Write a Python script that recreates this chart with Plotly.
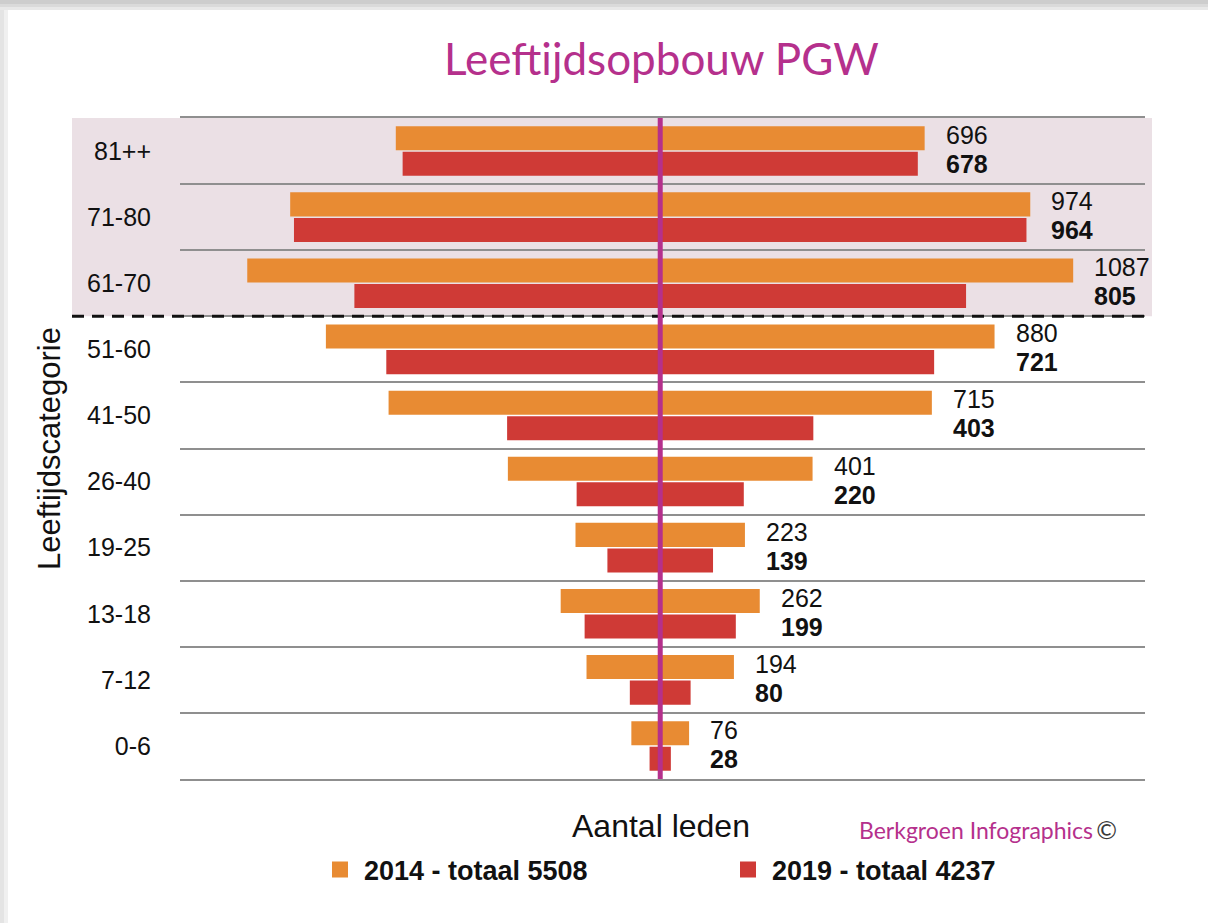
import plotly.graph_objects as go

# ---------------- data ----------------
categories = ["81++", "71-80", "61-70", "51-60", "41-50", "26-40", "19-25", "13-18", "7-12", "0-6"]
leden_2014 = [696, 974, 1087, 880, 715, 401, 223, 262, 194, 76]
leden_2019 = [678, 964, 805, 721, 403, 220, 139, 199, 80, 28]
series_names = ["2014 - totaal 5508", "2019 - totaal 4237"]

# ---------------- styling ----------------
ORANGE = "#e88b33"
RED = "#cf3a36"
MAGENTA = "#b5308c"
PINK = "#ebe0e5"
GRID = "#8f8f8f"

W, H = 1208, 923
L, R, T, B = 180, 63, 118, 144
PW, PH = W - L - R, H - T - B


def pxx(px):
    return (px - L) / PW


def pxy(py):
    return (H - B - py) / PH


cat_order = categories[::-1]  # bottom -> top

fig = go.Figure()

# red first so that orange sits on top within each group (horizontal grouping)
fig.add_trace(go.Bar(
    y=categories, x=leden_2019, base=[-v / 2 for v in leden_2019],
    orientation="h", marker=dict(color=RED, line_width=0),
    showlegend=False, hoverinfo="skip"))
fig.add_trace(go.Bar(
    y=categories, x=leden_2014, base=[-v / 2 for v in leden_2014],
    orientation="h", marker=dict(color=ORANGE, line_width=0),
    showlegend=False, hoverinfo="skip"))

# legend entries
for name, col in zip(series_names, [ORANGE, RED]):
    fig.add_trace(go.Scatter(
        x=[None], y=[None], mode="markers", name=f"<b>{name}</b>",
        marker=dict(symbol="square", size=20, color=col)))

# value labels
for cat, a, b in zip(categories, leden_2014, leden_2019):
    fig.add_annotation(x=a / 2, y=cat, text=str(a), showarrow=False,
                       xanchor="left", yanchor="middle", xshift=19, yshift=16,
                       font=dict(family="Liberation Sans, Arial", size=25, color="#111"))
    fig.add_annotation(x=a / 2, y=cat, text=f"<b>{b}</b>", showarrow=False,
                       xanchor="left", yanchor="middle", xshift=19, yshift=-13,
                       font=dict(family="Liberation Sans, Arial", size=25, color="#111"))

shapes = []
# frame shadow
for (y0, y1, c) in [(0, 4, "#cdcdcd"), (4, 7, "#dadada"), (7, 10, "#e8e8e8")]:
    shapes.append(dict(type="rect", xref="paper", yref="paper", x0=pxx(0), x1=pxx(W),
                       y0=pxy(y1), y1=pxy(y0), fillcolor=c, line_width=0, layer="below"))
for (x0, x1, c) in [(0, 4, "#e4e4e4"), (4, 8, "#f0f0f0")]:
    shapes.append(dict(type="rect", xref="paper", yref="paper", x0=pxx(x0), x1=pxx(x1),
                       y0=pxy(H), y1=pxy(10), fillcolor=c, line_width=0, layer="below"))
# pink band for 61+
shapes.append(dict(type="rect", xref="paper", yref="y", x0=pxx(72), x1=pxx(1152),
                   y0=6.5, y1=9.5, fillcolor=PINK, line_width=0, layer="below"))
# dashed separator
shapes.append(dict(type="line", xref="paper", yref="y", x0=pxx(72), x1=pxx(1152),
                   y0=6.5, y1=6.5, line=dict(color="#111", width=3, dash="12px,8px"),
                   layer="above"))
# center line
shapes.append(dict(type="line", xref="x", yref="paper", x0=0, x1=0, y0=0, y1=1,
                   line=dict(color=MAGENTA, width=5), layer="above"))
fig.update_layout(shapes=shapes)

# texts
fig.add_annotation(xref="paper", yref="paper", x=pxx(661), y=pxy(58),
                   text="Leeftijdsopbouw PGW", showarrow=False,
                   xanchor="center", yanchor="middle",
                   font=dict(family="Lato", size=44, color=MAGENTA))
fig.add_annotation(xref="paper", yref="paper", x=pxx(661), y=pxy(826),
                   text="Aantal leden", showarrow=False,
                   xanchor="center", yanchor="middle",
                   font=dict(family="Liberation Sans, Arial", size=32, color="#111"))
fig.add_annotation(xref="paper", yref="paper", x=pxx(49), y=pxy(449),
                   text="Leeftijdscategorie", showarrow=False, textangle=-90,
                   xanchor="center", yanchor="middle",
                   font=dict(family="Liberation Sans, Arial", size=31, color="#111"))
fig.add_annotation(xref="paper", yref="paper", x=pxx(857), y=pxy(829),
                   text="Berkgroen Infographics<span style='color:#3a3a3a;font-size:25px'>\u2009©</span>",
                   showarrow=False, xanchor="left", yanchor="middle",
                   font=dict(family="Lato", size=23, color=MAGENTA))

fig.update_layout(
    width=W, height=H,
    margin=dict(l=L, r=R, t=T, b=B),
    paper_bgcolor="white", plot_bgcolor="rgba(0,0,0,0)",
    barmode="group", bargap=0.227, bargroupgap=0.06,
    legend=dict(orientation="h", x=pxx(316), xanchor="left", y=pxy(870), yanchor="middle",
                entrywidthmode="pixels", entrywidth=355, itemwidth=38,
                font=dict(family="Liberation Sans, Arial", size=27, color="#111"),
                bgcolor="rgba(0,0,0,0)", traceorder="normal"),
    xaxis=dict(range=[-632, 638], showticklabels=False, showgrid=False, zeroline=False,
               showline=True, mirror=True, linecolor=GRID, linewidth=1.5, ticks=""),
    yaxis=dict(type="category", categoryorder="array", categoryarray=cat_order,
               range=[-0.5, 9.5], tickson="boundaries", showgrid=True, gridcolor=GRID,
               gridwidth=1.5, ticks="", showline=False, zeroline=False,
               ticklabelstandoff=28,
               tickfont=dict(family="Liberation Sans, Arial", size=25, color="#111")),
)

fig.write_html("out.html", config={"displayModeBar": False},
               post_script="document.body.style.margin='0px';")
